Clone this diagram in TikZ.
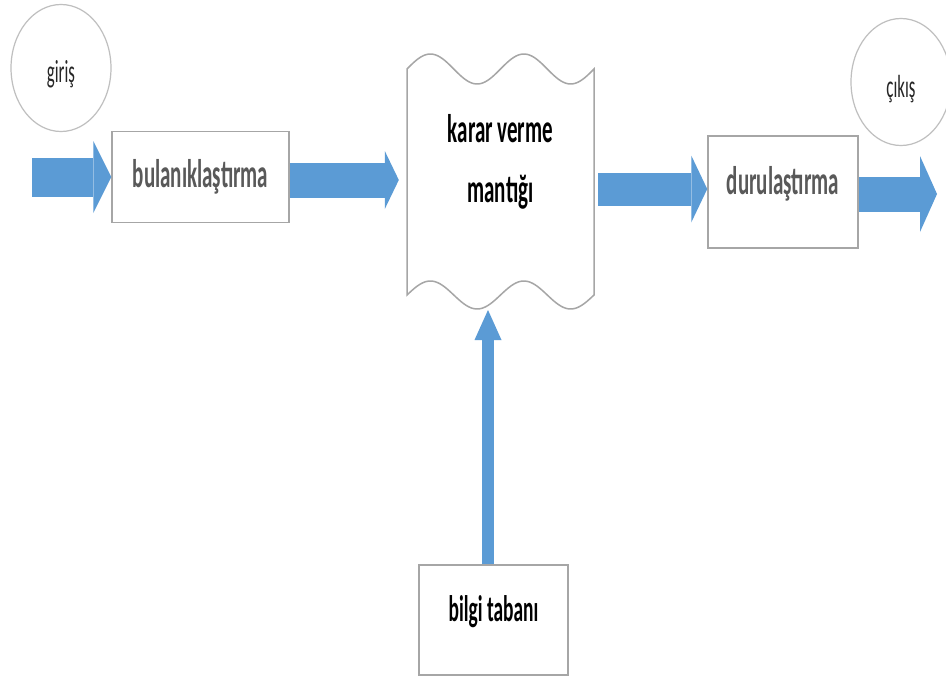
\documentclass[tikz,border=0pt]{standalone}
\usepackage{fontspec}
\setmainfont{Carlito}[FakeStretch=0.525]
\usetikzlibrary{arrows.meta,shapes.geometric}
\definecolor{flowblue}{HTML}{5B9BD5}
\definecolor{boxgray}{HTML}{A6A6A6}
\definecolor{ringgray}{HTML}{BFBFBF}
\definecolor{labelgray}{HTML}{595959}

\begin{document}
\begin{tikzpicture}[x=1pt,y=-1pt,
    block/.style={draw=boxgray,line width=1.5pt,inner sep=0pt,font=\fontsize{40}{48}\selectfont\bfseries},
    ring/.style={draw=ringgray,line width=1.2pt,ellipse,minimum width=100pt,minimum height=127pt,inner sep=0pt,font=\fontsize{32}{38}\selectfont,text=black!85},
    flow/.style n args={3}{draw=flowblue,line width=#1,-{Triangle[width=#2,length=#3,line width=0pt]}}]
        \useasboundingbox[fill=white](0,0)rectangle(946,677);

        \node[ring,text height=33pt,text depth=3pt](giris)at(61,68){giriş};
        \node[block,text=labelgray,minimum width=177pt,minimum height=91pt,text height=28pt,text depth=7pt](bulan)at(200.5,177){bulanıklaştırma};
        \node[font=\fontsize{40}{60}\selectfont\bfseries,align=center,minimum width=187pt](karar)at(500.5,162){karar verme\\mantığı};
        \node[block,text=labelgray,minimum width=150pt,minimum height=112pt,text height=28pt,text depth=24pt](durul)at(783,192){durulaştırma};
        \node[ring,text height=34pt,text depth=2pt](cikis)at(901,82){çıkış};
        \node[block,font=\fontsize{37}{44}\selectfont\bfseries,minimum width=149pt,minimum height=110pt,text height=28pt,text depth=26pt](bilgi)at(493.5,620){bilgi tabanı};

        \draw[draw=boxgray,line width=1.5pt]plot[domain=407:594,samples=80](\x,{69-15*sin(3.85*(\x-407))})
            --plot[domain=594:407,samples=80](\x,{295-14*sin(3.85*(\x-407))})--cycle;

        \coordinate(inTail)at(32,177);
        \coordinate(outTip)at(937,194);
        \coordinate(kbTip)at(488,310);

        \draw[flow={39pt}{72pt}{18pt}](inTail)--(bulan.west);
        \draw[flow={35pt}{58pt}{14pt}]([yshift=-3pt]bulan.east)--([yshift=-3pt,xshift=-8pt]bulan.east-|karar.west);
        \draw[flow={33pt}{67pt}{16pt}]([yshift=3pt,xshift=4pt]durul.west-|karar.east)--([yshift=3pt]durul.west);
        \draw[flow={35pt}{76pt}{17pt}]([yshift=-2pt]durul.east)--(outTip);
        \draw[flow={12pt}{27pt}{30pt}](bilgi.north-|kbTip)--(kbTip);
    \end{tikzpicture}
\end{document}
